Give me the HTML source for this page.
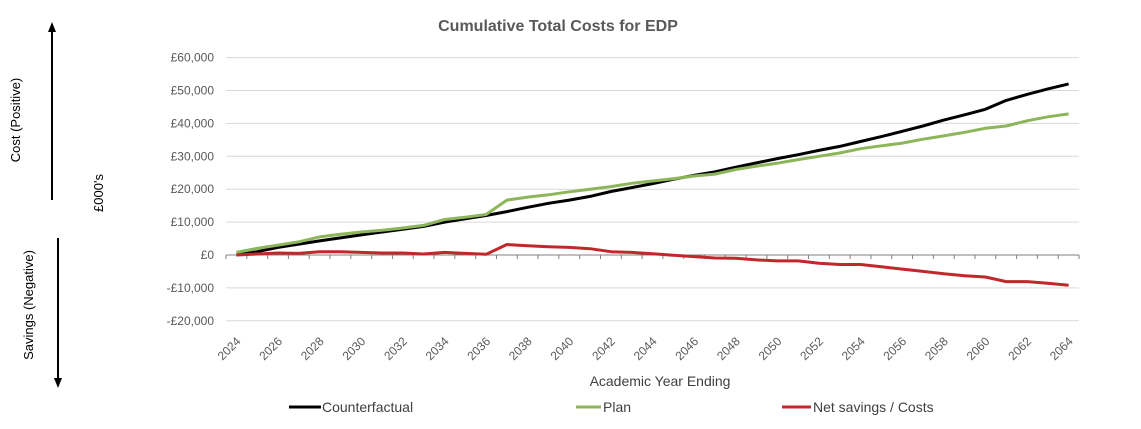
<!DOCTYPE html>
<html><head><meta charset="utf-8"><style>
body{margin:0;background:#fff;}
svg{display:block;font-family:"Liberation Sans",sans-serif;}
</style></head><body>
<svg id="chart" width="1141" height="429">
<text x="558" y="31" text-anchor="middle" font-size="16" font-weight="bold" fill="#595959">Cumulative Total Costs for EDP</text>
<g id="grid"></g><g id="yticks"></g><g id="xaxis"></g><g id="series"></g>
<text x="660" y="386" text-anchor="middle" font-size="14" fill="#404040">Academic Year Ending</text>
<g>
<g><line x1="289" y1="407" x2="321" y2="407" stroke="#000" stroke-width="3"/><text x="322" y="412" font-size="14" fill="#404040">Counterfactual</text></g>
<g><line x1="576" y1="407" x2="601" y2="407" stroke="#8db55a" stroke-width="3"/><text x="603" y="412" font-size="14" fill="#404040">Plan</text></g>
<g><line x1="782" y1="407" x2="811" y2="407" stroke="#c0282c" stroke-width="3"/><text x="813" y="412" font-size="14" fill="#404040">Net savings / Costs</text></g>
</g>
<g>
<line x1="52" y1="30" x2="52" y2="200" stroke="#000" stroke-width="2"/><polygon points="52,22 48,32 56,32" fill="#000"/>
<text transform="translate(20,120) rotate(-90)" text-anchor="middle" font-size="13" fill="#000">Cost (Positive)</text>
</g>
<text transform="translate(103,193) rotate(-90)" text-anchor="middle" font-size="13" fill="#000">£000's</text>
<g>
<line x1="58" y1="238" x2="58" y2="380" stroke="#000" stroke-width="2"/><polygon points="58,388 54,378 62,378" fill="#000"/>
<text transform="translate(33,305) rotate(-90)" text-anchor="middle" font-size="13" fill="#000">Savings (Negative)</text>
</g>
</svg>
<script>
const years=[];for(let y=2024;y<=2064;y++)years.push(y);
const counterfactual=[0,1,2.3,3.3,4.3,5.2,6.1,7,7.8,8.7,10,11,12,13.2,14.5,15.7,16.7,17.8,19.3,20.5,21.7,23,24.2,25.3,26.7,28,29.3,30.5,31.8,33,34.5,36,37.6,39.2,41,42.6,44.3,47,48.8,50.5,52];
const plan=[0.8,2,3,4,5.5,6.3,7,7.5,8.2,9,10.8,11.5,12.3,16.7,17.6,18.3,19.2,20,20.8,21.8,22.5,23.2,24,24.6,26,27,27.9,29,30,31,32.3,33.2,34,35.2,36.2,37.3,38.5,39.2,40.8,42,42.9];
const net=[0,0.3,0.6,0.5,1,1,0.8,0.6,0.6,0.3,0.8,0.5,0.2,3.2,2.8,2.5,2.3,1.9,1.0,0.8,0.4,-0.1,-0.5,-0.9,-1.0,-1.5,-1.8,-1.8,-2.5,-2.9,-2.9,-3.6,-4.3,-5,-5.7,-6.3,-6.7,-8.1,-8.1,-8.6,-9.2];
const yTicks=[60,50,40,30,20,10,0,-10,-20];
const yLabels=["£60,000","£50,000","£40,000","£30,000","£20,000","£10,000","£0","-£10,000","-£20,000"];
const NS="http://www.w3.org/2000/svg";
const L=226,R=1079,band=(R-L)/years.length;
const xs=i=>L+band*(i+0.5);
const ys=v=>255-v*3.29;
function mk(t,a,p){const e=document.createElementNS(NS,t);for(const k in a)e.setAttribute(k,a[k]);p.appendChild(e);return e;}
const grid=document.getElementById('grid'),yt=document.getElementById('yticks'),xa=document.getElementById('xaxis'),se=document.getElementById('series');
yTicks.forEach((v,i)=>{
 if(v!==0){const g=mk('line',{x1:L,x2:R,y1:ys(v),y2:ys(v),stroke:'#d9d9d9','stroke-width':1},grid);
 
 }
 const t=mk('text',{x:214,y:ys(v)+4,'text-anchor':'end','font-size':12,fill:'#595959'},yt);t.textContent=yLabels[i];
 
 
});
const ax=mk('line',{x1:L,x2:R,y1:ys(0),y2:ys(0),stroke:'#808080','stroke-width':1},xa);


for(let i=0;i<=years.length;i++){mk('line',{x1:L+band*i,x2:L+band*i,y1:ys(0),y2:ys(0)+4,stroke:'#808080'},xa);}
years.forEach((y,i)=>{if(i%2)return;const x=xs(i),yy=342;
 const t=mk('text',{x:x+5,y:yy,'text-anchor':'end','font-size':12,fill:'#595959',transform:`rotate(-45 ${x+5} ${yy})`},xa);t.textContent=y;
 
 });
function line(arr,col,name){const d=arr.map((v,i)=>(i?'L':'M')+xs(i).toFixed(1)+' '+ys(v).toFixed(1)).join('');
 const p=mk('path',{d,fill:'none',stroke:col,'stroke-width':3,'stroke-linejoin':'round'},se);
 
 }
line(counterfactual,'#000','counterfactual-line');
line(plan,'#8db55a','plan-line');
line(net,'#c0282c','net-savings-line');
</script>
</body></html>
